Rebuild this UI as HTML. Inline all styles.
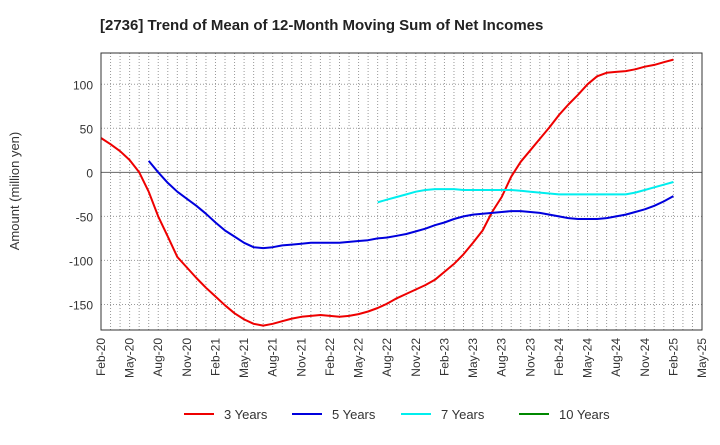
<!DOCTYPE html>
<html><head><meta charset="utf-8"><style>
body{margin:0;background:#fff;font-family:"Liberation Sans",sans-serif;}
svg text{font-family:"Liberation Sans",sans-serif;fill:#333;}
</style></head><body>
<svg id="chart" width="720" height="440" xmlns="http://www.w3.org/2000/svg">
<text x="100" y="30" font-size="15" font-weight="bold" style="fill:#222">[2736]  Trend of Mean of 12-Month Moving Sum of Net Incomes</text>
<text transform="translate(19,191) rotate(-90)" text-anchor="middle" font-size="13">Amount (million yen)</text>
<g id="grid"></g><g id="series"></g><g id="axes"></g><g id="legend"></g>
</svg>
<script>
const xTickLabels=["Feb-20","May-20","Aug-20","Nov-20","Feb-21","May-21","Aug-21","Nov-21","Feb-22","May-22","Aug-22","Nov-22","Feb-23","May-23","Aug-23","Nov-23","Feb-24","May-24","Aug-24","Nov-24","Feb-25","May-25"];
const yTicks=[-150,-100,-50,0,50,100];
const seriesNames=["3 Years","5 Years","7 Years","10 Years"];
const seriesColors=["#ee0000","#0000dd","#00eeee","#008800"];
const seriesStart=[0,5,29,0];
const s3=[39,32,24,14,0,-22,-50,-73,-96,-108,-120,-131,-141,-151,-160,-167,-172,-174,-172,-169,-166,-164,-163,-162,-163,-164,-163,-161,-158,-154,-149,-143,-138,-133,-128,-122,-113,-104,-93,-80,-66,-45,-28,-5,12,25,38,51,65,77,88,100,109,113,114,115,117,120,122,125,128];
const s5=[13,0,-12,-22,-30,-38,-47,-57,-66,-73,-80,-85,-86,-85,-83,-82,-81,-80,-80,-80,-80,-79,-78,-77,-75,-74,-72,-70,-67,-64,-60,-57,-53,-50,-48,-47,-46,-45,-44,-44,-45,-46,-48,-50,-52,-53,-53,-53,-52,-50,-48,-45,-42,-38,-33,-27];
const s7=[-34,-31,-28,-25,-22,-20,-19,-19,-19,-20,-20,-20,-20,-20,-20,-21,-22,-23,-24,-25,-25,-25,-25,-25,-25,-25,-25,-23,-20,-17,-14,-11];
const s10=[];
const seriesData=[s3,s5,s7,s10];
const L=101,R=702,T=53,B=330,yMin=-179,yMax=135.5,nMonths=63;
const X=m=>L+(R-L)*m/nMonths;
const Y=v=>B-(B-T)*(v-yMin)/(yMax-yMin);
const NS="http://www.w3.org/2000/svg";
function mk(tag,attrs,parent){const e=document.createElementNS(NS,tag);for(const k in attrs)e.setAttribute(k,attrs[k]);parent.appendChild(e);return e;}
const grid=document.getElementById('grid'),axes=document.getElementById('axes'),ser=document.getElementById('series'),leg=document.getElementById('legend');
for(let m=1;m<nMonths;m++){const l=mk('line',{x1:X(m),x2:X(m),y1:T,y2:B,stroke:'#999','stroke-width':1,'stroke-dasharray':'1,2'},grid);

}
yTicks.forEach(v=>{const l=mk('line',{x1:L,x2:R,y1:Y(v),y2:Y(v),stroke:v===0?'#666':'#999','stroke-width':1,'stroke-dasharray':v===0?'':'1,2'},grid);


const t=mk('text',{x:L-8,y:Y(v)+5,'text-anchor':'end','font-size':12},axes);t.textContent=v;

});
xTickLabels.forEach((s,i)=>{const x=X(i*3);const t=mk('text',{transform:`translate(${x+4},${B+8}) rotate(-90)`,'text-anchor':'end','font-size':12},axes);t.textContent=s;

});
const fr=mk('rect',{x:L,y:T,width:R-L,height:B-T,fill:'none',stroke:'#333','stroke-width':1},axes);


seriesData.forEach((d,si)=>{if(!d.length)return;const pts=d.map((v,i)=>X(seriesStart[si]+i).toFixed(1)+','+Y(v).toFixed(1)).join(' ');
const p=mk('polyline',{points:pts,fill:'none',stroke:seriesColors[si],'stroke-width':2,'stroke-linejoin':'round'},ser);

});
const lx=[184,292,401,519];
seriesNames.forEach((n,i)=>{const g=mk('g',{},leg);


mk('line',{x1:lx[i],x2:lx[i]+30,y1:414,y2:414,stroke:seriesColors[i],'stroke-width':2},g);
const t=mk('text',{x:lx[i]+40,y:419,'font-size':13},g);t.textContent=n;});
</script>
</body></html>
